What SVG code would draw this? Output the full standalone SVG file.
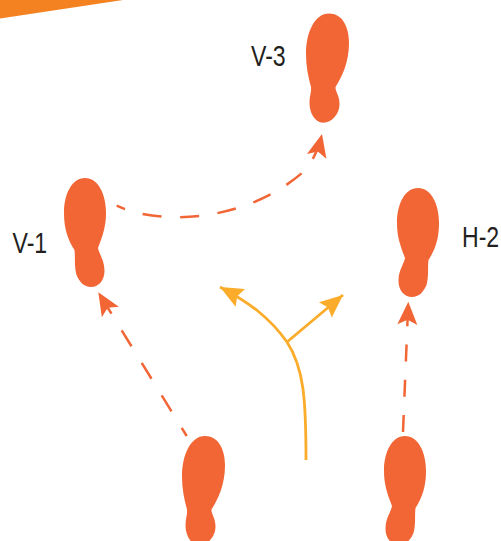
<svg xmlns="http://www.w3.org/2000/svg" width="501" height="541" viewBox="0 0 501 541">
<style>
.foot{fill:#F26535}
.lbl{font-family:"Liberation Sans",Arial,sans-serif;font-size:30px;fill:#231F20}
.dash{fill:none;stroke:#F26535;stroke-width:2.5}
.way{fill:none;stroke:#FAAC2A;stroke-width:2.8}
</style>
<defs>
<marker id="ao" markerUnits="userSpaceOnUse" markerWidth="26" markerHeight="24" refX="24" refY="12" orient="auto" overflow="visible"><path d="M24 12L1 2L6 12L1 22Z" fill="#F26535"/></marker>
<marker id="ay" markerUnits="userSpaceOnUse" markerWidth="26" markerHeight="24" refX="24" refY="12" orient="auto" overflow="visible"><path d="M24 12L1 2L4.500 12L1 22Z" fill="#FAAC2A"/></marker>
<path id="footA" d="M329 13.500C342 13.500 349 26 349 43C349 62 342 77 335.500 87C335 91 339.500 95 339.500 104C339.500 114 332 122.700 323 122.700C315 122.700 309.500 113 309.500 103C309.500 96 311.500 92 311 87C308 76 306 66 306 54C306 32 315 13.500 329 13.500Z"/>
<path id="footB" d="M418 188C431 188 439 204 439 223C439 239 435 250 428.500 260C427.500 268 429 276 426.500 285C423.500 292 419 297 412 297C404 297 398.500 290 398.500 281C398.500 270 404 264 405 258C400 245 397 236 397 223C397 204 405 188 418 188Z"/>
</defs>
<path d="M0 0H123L0 18.500Z" fill="#F58220"/>
<g id="connectors">
<path class="dash" stroke-dasharray="19 18.500" stroke-dashoffset="10" d="M116.700 205.700C160 226 245 222 302 173C310 165 317 155 322 134" marker-end="url(#ao)"/>
<path class="dash" stroke-dasharray="18.700 19.500" stroke-dashoffset="9.200" d="M186.700 436L98.300 292.300" marker-end="url(#ao)"/>
<path class="dash" stroke-dasharray="17 18.300" d="M403 432L408.300 301.700" marker-end="url(#ao)"/>
<path class="way" d="M306 460C306 400 304 368 287 342C270 318 250 303 220 287" marker-end="url(#ay)"/>
<path class="way" d="M287 342L343 295" marker-end="url(#ay)"/>
</g>
<g id="node-v3"><use href="#footA" class="foot"/><text class="lbl" transform="translate(251 66) scale(.77 1)">V-3</text></g>
<g id="node-v1"><use href="#footB" class="foot" transform="translate(503 -10) scale(-1 1)"/><text class="lbl" transform="translate(12.500 253) scale(.77 1)">V-1</text></g>
<g id="node-h2"><use href="#footB" class="foot"/><text class="lbl" transform="translate(462 247) scale(.77 1)">H-2</text></g>
<g id="node-start-left"><use href="#footA" class="foot" transform="translate(-124 422.500)"/></g>
<g id="node-start-right"><use href="#footB" class="foot" transform="translate(-13 248)"/></g>
</svg>
